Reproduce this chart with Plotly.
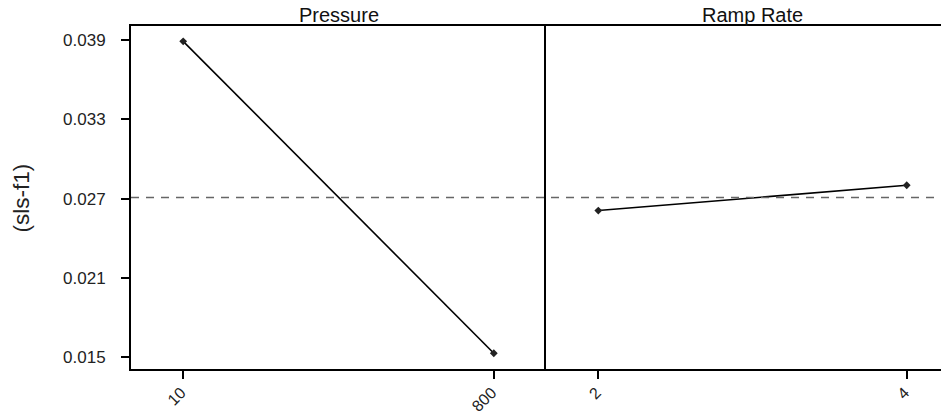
import plotly.graph_objects as go

# Data
pressure_levels = ["10", "800"]
pressure_means = [0.0389, 0.01532]
ramp_levels = ["2", "4"]
ramp_means = [0.02611, 0.02802]
grand_mean = 0.0271
y_ticks = [0.015, 0.021, 0.027, 0.033, 0.039]
panel_titles = ["Pressure", "Ramp Rate"]
y_title = "(sls-f1)"

# page body has an 8px default margin; compensate
W, H = 941, 406
ML, MR, MT, MB = 123, 0, 18, 45
PW = W - ML - MR
split = (538 - ML) / PW

FONT = "Liberation Sans, Arial, sans-serif"

fig = go.Figure()
line_style = dict(color="black", width=1.6)
marker_style = dict(symbol="diamond", size=6, color="#222222")

fig.add_trace(go.Scatter(x=pressure_levels, y=pressure_means, mode="lines+markers",
                         line=line_style, marker=marker_style, xaxis="x", yaxis="y",
                         showlegend=False, hoverinfo="x+y"))
fig.add_trace(go.Scatter(x=ramp_levels, y=ramp_means, mode="lines+markers",
                         line=line_style, marker=marker_style, xaxis="x2", yaxis="y2",
                         showlegend=False, hoverinfo="x+y"))

yrange = [0.01413, 0.04006]
ytickfont = dict(family=FONT, size=17, color="#222222")
xtickfont = dict(family=FONT, size=16, color="#222222")

common_x = dict(type="category", showgrid=False, zeroline=False, showline=True,
                linecolor="black", linewidth=2, mirror=True, ticks="outside",
                ticklen=8, tickwidth=1.5, tickcolor="black", tickangle=-45,
                tickfont=xtickfont, ticklabelstandoff=-2, ticklabelshift=-2)

fig.update_layout(
    width=W, height=H,
    margin=dict(l=ML, r=MR, t=MT, b=MB, autoexpand=False),
    paper_bgcolor="white", plot_bgcolor="white",
    xaxis=dict(domain=[0, split], range=[-0.168, 1.168], anchor="y", **common_x),
    xaxis2=dict(domain=[split, 1], range=[-0.1696, 1.137], anchor="y2", **common_x),
    yaxis=dict(range=yrange, tickvals=y_ticks, tickformat=".3f", showgrid=False,
               zeroline=False, showline=True, linecolor="black", linewidth=2,
               ticks="outside", ticklen=8, tickwidth=1.5, tickcolor="black",
               tickfont=ytickfont, ticklabelstandoff=12, anchor="x"),
    yaxis2=dict(range=yrange, showticklabels=False, ticks="", showgrid=False,
                zeroline=False, showline=True, linecolor="black", linewidth=1.6,
                anchor="x2", matches="y"),
    showlegend=False,
)

fig.add_shape(type="line", xref="paper", yref="y", x0=0, x1=1,
              y0=grand_mean, y1=grand_mean,
              line=dict(color="#666666", width=1.6, dash="8px,7px"), layer="above")

centers = [split / 2, (split + 1 + 10.0 / PW) / 2]
for t, cx in zip(panel_titles, centers):
    fig.add_annotation(text=t, xref="paper", yref="paper", x=cx, y=1,
                       xanchor="center", yanchor="bottom", showarrow=False,
                       yshift=-2, font=dict(family=FONT, size=20, color="#111111"))

fig.add_annotation(text=y_title, xref="paper", yref="paper", x=(21 - 131) / PW, y=0.5,
                   xanchor="center", yanchor="middle", textangle=-90, showarrow=False,
                   font=dict(family=FONT, size=22.5, color="#222222"))

fig.write_html("out.html")
